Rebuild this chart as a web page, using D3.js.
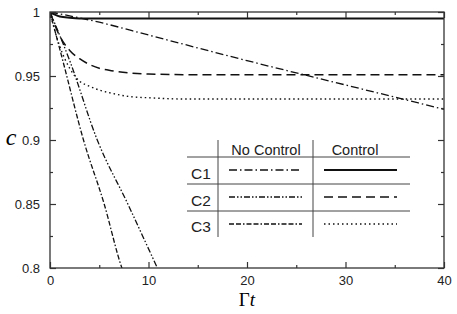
<!DOCTYPE html>
<html>
<head>
<meta charset="utf-8">
<script src="https://cdn.jsdelivr.net/npm/d3@7"></script>
<style>
    body { margin: 0; background: #fff; }
    svg { display: block; }
    .tick text { font-family: "Liberation Sans", Arial, sans-serif; font-size: 13px; fill: #222; }
    .axis path, .axis line { stroke: #333; stroke-width: 1.2; }
</style>
</head>
<body>
<svg id="chart" width="457" height="314"></svg>
<script>
// values
const xTicks = [0, 10, 20, 30, 40];
const xMinor = [5, 15, 25, 35];
const yTicks = [0.8, 0.85, 0.9, 0.95, 1];
const yMinor = [0.825, 0.875, 0.925, 0.975];
const yTickLabels = ["0.8", "0.85", "0.9", "0.95", "1"];

const c1NoControl = [[0, 1], [2, 0.997], [5, 0.992], [10, 0.982], [20, 0.962], [30, 0.943], [40, 0.924]];
const c1Control = [[0, 1], [0.5, 0.998], [1, 0.9965], [2, 0.9955], [3, 0.995], [10, 0.995], [40, 0.995]];
const c2NoControl = [[0, 1], [2, 0.962], [4.8, 0.9], [7.9, 0.85], [10.9, 0.8], [11.5, 0.79]];
const c2Control = [[0, 1], [1, 0.981], [2, 0.97], [3, 0.9635], [4, 0.959], [5, 0.956], [6, 0.9545], [8, 0.9525], [10, 0.9515], [15, 0.951], [40, 0.951]];
const c3NoControl = [[0, 1], [1.3, 0.962], [3.4, 0.9], [5.5, 0.85], [7.3, 0.8], [7.8, 0.79]];
const c3Control = [[0, 1], [0.5, 0.985], [1, 0.973], [2, 0.956], [3, 0.946], [4, 0.942], [5, 0.939], [6, 0.937], [8, 0.934], [10, 0.933], [14, 0.932], [40, 0.932]];

const series = [
    { name: "C1", row: 0, col: 0, data: c1NoControl, dash: "8,3,1.5,3", width: 1.3 },
    { name: "C1", row: 0, col: 1, data: c1Control, dash: null, width: 2 },
    { name: "C2", row: 1, col: 0, data: c2NoControl, dash: "6,2,1.5,2,1.5,2", width: 1.3 },
    { name: "C2", row: 1, col: 1, data: c2Control, dash: "9,5", width: 1.5 },
    { name: "C3", row: 2, col: 0, data: c3NoControl, dash: "5,2,5,2,1.5,2", width: 1.3 },
    { name: "C3", row: 2, col: 1, data: c3Control, dash: "1.5,3", width: 1.4 }
];
const rowNames = ["C1", "C2", "C3"];
const colNames = ["No Control", "Control"];

const W = 457, H = 314;
const margin = { top: 12, right: 13, bottom: 46, left: 50 };

const svg = d3.select("#chart");

const x = d3.scaleLinear().domain([0, 40]).range([margin.left, W - margin.right]);
const y = d3.scaleLinear().domain([0.8, 1]).range([H - margin.bottom, margin.top]);

svg.append("clipPath").attr("id", "clip")
    .append("rect")
    .attr("x", margin.left).attr("y", margin.top)
    .attr("width", x(40) - x(0)).attr("height", y(0.8) - y(1));

let line = d3.line()
    .x(d => x(d[0]))
    .y(d => y(d[1]))
    .curve(d3.curveMonotoneX);

svg.append("g").attr("clip-path", "url(#clip)")
    .selectAll("path")
    .data(series).enter()
    .append("path")
    .attr("d", d => line(d.data))
    .attr("fill", "none")
    .attr("stroke", "#111")
    .attr("stroke-width", d => d.width)
    .attr("stroke-dasharray", d => d.dash);

// axes, ticks inward on all sides
function addAxis(axis, tx, ty) {
    svg.append("g").attr("class", "axis")
        .attr("transform", `translate(${tx},${ty})`)
        .call(axis)
        .call(g => g.select(".domain").remove());
}
addAxis(d3.axisBottom(x).tickValues(xTicks).tickSizeInner(-6).tickSizeOuter(0).tickPadding(8), 0, y(0.8));
addAxis(d3.axisBottom(x).tickValues(xMinor).tickSizeInner(-3).tickSizeOuter(0).tickFormat(""), 0, y(0.8));
addAxis(d3.axisTop(x).tickValues(xTicks).tickSizeInner(-6).tickSizeOuter(0).tickFormat(""), 0, y(1));
addAxis(d3.axisTop(x).tickValues(xMinor).tickSizeInner(-3).tickSizeOuter(0).tickFormat(""), 0, y(1));
addAxis(d3.axisLeft(y).tickValues(yTicks).tickSizeInner(-6).tickSizeOuter(0).tickPadding(10)
    .tickFormat((d, i) => yTickLabels[i]), x(0), 0);
addAxis(d3.axisLeft(y).tickValues(yMinor).tickSizeInner(-3).tickSizeOuter(0).tickFormat(""), x(0), 0);
addAxis(d3.axisRight(y).tickValues(yTicks).tickSizeInner(-6).tickSizeOuter(0).tickFormat(""), x(40), 0);
addAxis(d3.axisRight(y).tickValues(yMinor).tickSizeInner(-3).tickSizeOuter(0).tickFormat(""), x(40), 0);

svg.append("rect")
    .attr("x", x(0)).attr("y", y(1))
    .attr("width", x(40) - x(0)).attr("height", y(0.8) - y(1))
    .attr("fill", "none").attr("stroke", "#333").attr("stroke-width", 1.3);

// axis titles
svg.append("text")
    .attr("x", 11).attr("y", y(0.9) + 5)
    .attr("text-anchor", "middle")
    .style("font-family", "'Liberation Serif', 'Times New Roman', serif")
    .style("font-style", "italic")
    .style("font-size", "24px")
    .text("c");

let xt = svg.append("text")
    .attr("x", x(20)).attr("y", 306)
    .attr("text-anchor", "middle")
    .style("font-family", "'Liberation Serif', 'Times New Roman', serif")
    .style("font-size", "19px");
xt.append("tspan").text("Γ");
xt.append("tspan").style("font-style", "italic").text("t");

// legend table
let lg = svg.append("g").attr("id", "legend");
let tbl = { left: 187, right: 410, top: 140, bottom: 237, col1: 218, col2: 313, rowLines: [157, 184, 211] };

lg.selectAll("line.h")
    .data(tbl.rowLines).enter()
    .append("line")
    .attr("x1", tbl.left).attr("x2", tbl.right)
    .attr("y1", d => d).attr("y2", d => d)
    .attr("stroke", "#444").attr("stroke-width", 1);

lg.selectAll("line.v")
    .data([tbl.col1, tbl.col2]).enter()
    .append("line")
    .attr("x1", d => d).attr("x2", d => d)
    .attr("y1", tbl.top).attr("y2", tbl.bottom)
    .attr("stroke", "#444").attr("stroke-width", 1);

lg.selectAll("text.col")
    .data(colNames).enter()
    .append("text")
    .attr("x", (d, i) => [266, 355][i])
    .attr("y", 155)
    .attr("text-anchor", "middle")
    .style("font-family", "'Liberation Sans', Arial, sans-serif")
    .style("font-size", "14.5px")
    .attr("fill", "#222")
    .text(d => d);

lg.selectAll("text.row")
    .data(rowNames).enter()
    .append("text")
    .attr("x", 201)
    .attr("y", (d, i) => 179 + i * 26.5)
    .attr("text-anchor", "middle")
    .style("font-family", "'Liberation Sans', Arial, sans-serif")
    .style("font-size", "15.5px")
    .attr("fill", "#222")
    .text(d => d);

lg.selectAll("line.sample")
    .data(series).enter()
    .append("line")
    .attr("x1", d => d.col === 0 ? 229 : 324)
    .attr("x2", d => d.col === 0 ? 302 : 397)
    .attr("y1", d => 170 + d.row * 27)
    .attr("y2", d => 170 + d.row * 27)
    .attr("stroke", "#111")
    .attr("stroke-width", d => d.width)
    .attr("stroke-dasharray", d => d.dash);
</script>
</body>
</html>
